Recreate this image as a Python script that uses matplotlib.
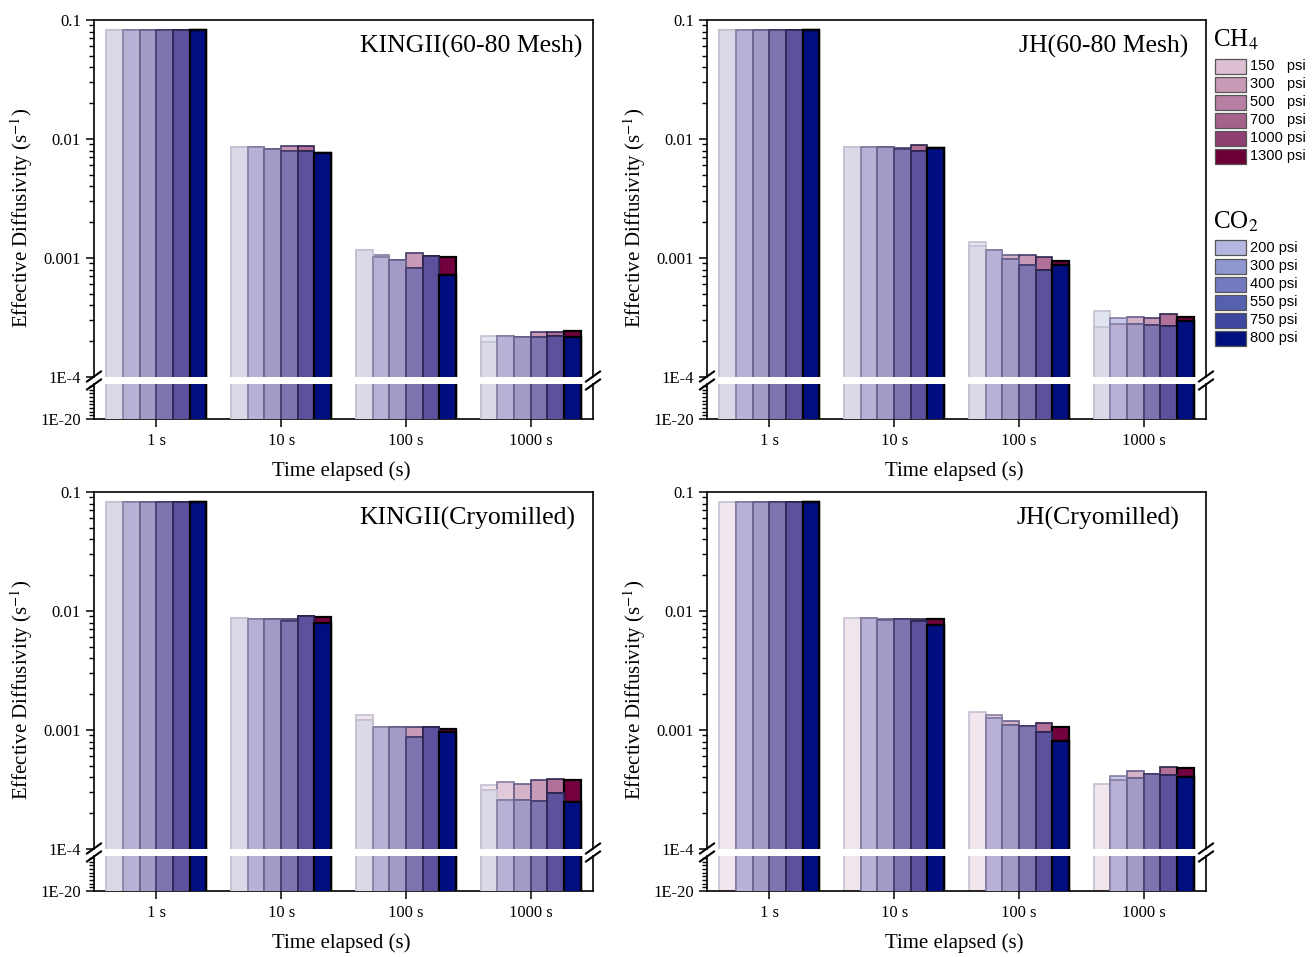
import numpy as np
import matplotlib
matplotlib.use("Agg")
import matplotlib.pyplot as plt
from matplotlib.lines import Line2D
from matplotlib.patches import Rectangle
from matplotlib.ticker import FixedLocator, LogLocator, NullFormatter

plt.rcParams["font.family"] = ["Liberation Serif", "DejaVu Serif"]
plt.rcParams["mathtext.fontset"] = "stix"

W, H = 1314, 957

times = ["1 s", "10 s", "100 s", "1000 s"]
ch4_labels = ["150   psi", "300   psi", "500   psi", "700   psi", "1000 psi", "1300 psi"]
co2_labels = ["200 psi", "300 psi", "400 psi", "550 psi", "750 psi", "800 psi"]
nan = np.nan

# rows = elapsed time, columns = pressure step
kingii_mesh_ch4 = [
    [0.083, 0.083, 0.083, 0.082, 0.083, 0.082],
    [0.0086, 0.0085, 0.0083, 0.0088, 0.0087, 0.0077],
    [0.00116, 0.00107, 0.00096, 0.00111, 0.00103, 0.00101],
    [0.000196, 0.00022, 0.000216, 0.000238, 0.000238, 0.000243],
]
kingii_mesh_co2 = [
    [0.083, 0.083, 0.083, 0.082, 0.083, 0.082],
    [0.0086, 0.0085, 0.0083, 0.0080, 0.0080, 0.0077],
    [0.00116, 0.00101, 0.00096, 0.00083, 0.00103, 0.00072],
    [0.00022, 0.00022, 0.000216, 0.000216, 0.00022, 0.000216],
]
jh_mesh_ch4 = [
    [0.083, 0.083, 0.083, 0.083, 0.083, 0.082],
    [0.0086, 0.0086, 0.0086, 0.0084, 0.0089, 0.0084],
    [0.00125, 0.00116, 0.00107, 0.00107, 0.00101, 0.00094],
    [0.000262, 0.000278, 0.000318, 0.000312, 0.000337, 0.000318],
]
jh_mesh_co2 = [
    [0.083, 0.083, 0.083, 0.083, 0.083, 0.082],
    [0.0086, 0.0086, 0.0086, 0.0082, 0.0079, 0.0084],
    [0.00135, 0.00116, 0.00099, 0.00087, 0.00080, 0.00087],
    [0.000357, 0.000312, 0.000278, 0.000272, 0.000267, 0.000294],
]
kingii_cryo_ch4 = [
    [0.083, 0.083, 0.083, 0.082, 0.083, 0.082],
    [0.0087, 0.0085, 0.0085, 0.0086, 0.0090, 0.0089],
    [0.00134, 0.00107, 0.00107, 0.00107, 0.00107, 0.00101],
    [0.000343, 0.000364, 0.00035, 0.000378, 0.000385, 0.000378],
]
kingii_cryo_co2 = [
    [0.083, 0.083, 0.083, 0.082, 0.083, 0.082],
    [0.0087, 0.0085, 0.0085, 0.0082, 0.0090, 0.0079],
    [0.00122, 0.00107, 0.00107, 0.000865, 0.00107, 0.00097],
    [0.000312, 0.000257, 0.000257, 0.000252, 0.000294, 0.000248],
]
jh_cryo_ch4 = [
    [0.083, 0.083, 0.083, 0.083, 0.083, 0.082],
    [0.0088, 0.0087, 0.0085, 0.0085, 0.0085, 0.0085],
    [0.00143, 0.00134, 0.00118, 0.00109, 0.00115, 0.00105],
    [0.00035, 0.000378, 0.000449, 0.000424, 0.000485, 0.000476],
]
jh_cryo_co2 = [
    [nan, 0.083, 0.083, 0.083, 0.083, 0.082],
    [nan, 0.0087, 0.0084, 0.0085, 0.0082, 0.0076],
    [nan, 0.00125, 0.00111, 0.00109, 0.00097, 0.000815],
    [nan, 0.000408, 0.000393, 0.000424, 0.000416, 0.0004],
]

# visible colours: CH4 alone, CO2 alone, and where both overlap
ch4_only = ["#F2E6EE", "#E2CADA", "#D4B2C8", "#C89AB8", "#B07098", "#750040"]
co2_only = ["#E0E3F0", "#C6C9E6", "#A9ADD9", "#8A8FC9", "#6A70B5", "#000E80"]
overlap = ["#DCD8E8", "#B9B1D5", "#A39BC6", "#7F74AF", "#5B519C", "#000E80"]
edges = ["#C4C0D2", "#857EA2", "#675F8A", "#443C6A", "#2A244E", "#000000"]
ch4_legend = ["#DCC0D2", "#C99AB6", "#B77FA2", "#A4628C", "#8C3F70", "#6C0034"]
co2_legend = ["#B4B8E0", "#9096CF", "#737ABF", "#5660AE", "#3E48A0", "#00117F"]

bar_w = 0.8 / 6
floor = 1e-30


def draw_bars(ax, ch4, co2):
    ch4 = np.array(ch4)
    co2 = np.array(co2)
    both = np.minimum(ch4, co2)
    x0 = np.arange(len(times))
    for i in range(6):
        x = x0 + (i - 2.5) * bar_w
        lw = 1.6 if i == 5 else 1.2
        ax.bar(x, ch4[:, i], bar_w, bottom=floor, color=ch4_only[i],
               edgecolor=edges[i], linewidth=lw, zorder=2)
        ax.bar(x, co2[:, i], bar_w, bottom=floor, color=co2_only[i],
               edgecolor=edges[i], linewidth=lw, zorder=3)
        ax.bar(x, both[:, i], bar_w, bottom=floor, color=overlap[i],
               edgecolor=edges[i], linewidth=lw, zorder=4)


def fx(px):
    return px / W


def fy(py):
    return 1 - py / H


def break_mark(fig, xp, yp):
    for dy in (-4, 4):
        fig.add_artist(Line2D([fx(xp - 7), fx(xp + 7)], [fy(yp + dy + 5), fy(yp + dy - 5)],
                              color="black", lw=1.5))


def make_panel(fig, left, top, ch4, co2, name, name_x):
    width = 499
    top_h = 357
    gap = 7
    low_h = 35
    ax_top = fig.add_axes([fx(left + 2), fy(top + top_h), width / W, top_h / H])
    ax_low = fig.add_axes([fx(left + 2), fy(top + top_h + gap + low_h), width / W, low_h / H])
    for ax in (ax_top, ax_low):
        draw_bars(ax, ch4, co2)
        ax.set_yscale("log")
        ax.set_xlim(-0.5, 3.5)
        ax.yaxis.set_minor_formatter(NullFormatter())
        ax.tick_params(axis="y", which="major", direction="out", length=6, width=1.1, labelsize=12)
        ax.tick_params(axis="y", which="minor", direction="out", length=3.5, width=1)
        for s in ax.spines.values():
            s.set_linewidth(1.2)

    ax_top.set_ylim(1e-4, 0.1)
    ax_top.set_yticks([1e-4, 1e-3, 1e-2, 1e-1], ["1E-4", "0.001", "0.01", "0.1"])
    ax_top.yaxis.set_minor_locator(LogLocator(base=10, subs=np.arange(2, 10), numticks=50))
    ax_top.set_xticks([])
    ax_top.spines["bottom"].set_visible(False)

    ax_low.set_ylim(1e-20, 1e-19)
    ax_low.set_yticks([1e-20], ["1E-20"])
    ax_low.yaxis.set_minor_locator(FixedLocator(10.0 ** (-20 + np.arange(1, 10) / 9.5)))
    ax_low.set_xticks(range(len(times)), times)
    ax_low.tick_params(axis="x", direction="out", length=6, width=1.1, labelsize=12, pad=4)
    ax_low.spines["top"].set_visible(False)

    ax_top.text(name_x, 0.927, name, transform=ax_top.transAxes, ha="right", va="center",
                fontsize=18.5)

    yg = top + top_h + gap / 2
    break_mark(fig, left + 2, yg)
    break_mark(fig, left + 2 + width, yg)

    fig.text(fx(left - 70), fy(top + 198), "Effective Diffusivity (s$^{-1}$)",
             rotation=90, ha="center", va="center", fontsize=15)
    fig.text(fx(left + width / 2), fy(top + top_h + gap + low_h + 52), "Time elapsed (s)",
             ha="center", va="center", fontsize=15)


def draw_legend(fig, header, labels, colors, y_head):
    fig.text(fx(1213), fy(y_head), header, ha="left", va="center", fontsize=18)
    for i, (lbl, col) in enumerate(zip(labels, colors)):
        yc = y_head + 26 + i * 18
        fig.add_artist(Rectangle((fx(1215), fy(yc + 7.5)), 31 / W, 15 / H,
                                 transform=fig.transFigure, facecolor=col,
                                 edgecolor="#555555", linewidth=0.9))
        fig.text(fx(1250), fy(yc), lbl, ha="left", va="center", fontsize=10.5,
                 family=["Liberation Sans", "DejaVu Sans"])


def main():
    fig = plt.figure(figsize=(W / 100, H / 100), dpi=100)
    make_panel(fig, 92, 20, kingii_mesh_ch4, kingii_mesh_co2, "KINGII(60-80 Mesh)", 0.978)
    make_panel(fig, 705, 20, jh_mesh_ch4, jh_mesh_co2, "JH(60-80 Mesh)", 0.964)
    make_panel(fig, 92, 492, kingii_cryo_ch4, kingii_cryo_co2, "KINGII(Cryomilled)", 0.964)
    make_panel(fig, 705, 492, jh_cryo_ch4, jh_cryo_co2, "JH(Cryomilled)", 0.946)
    draw_legend(fig, "CH$_4$", ch4_labels, ch4_legend, 40)
    draw_legend(fig, "CO$_2$", co2_labels, co2_legend, 222)
    fig.savefig("out.png", dpi=100)


if __name__ == "__main__":
    main()
